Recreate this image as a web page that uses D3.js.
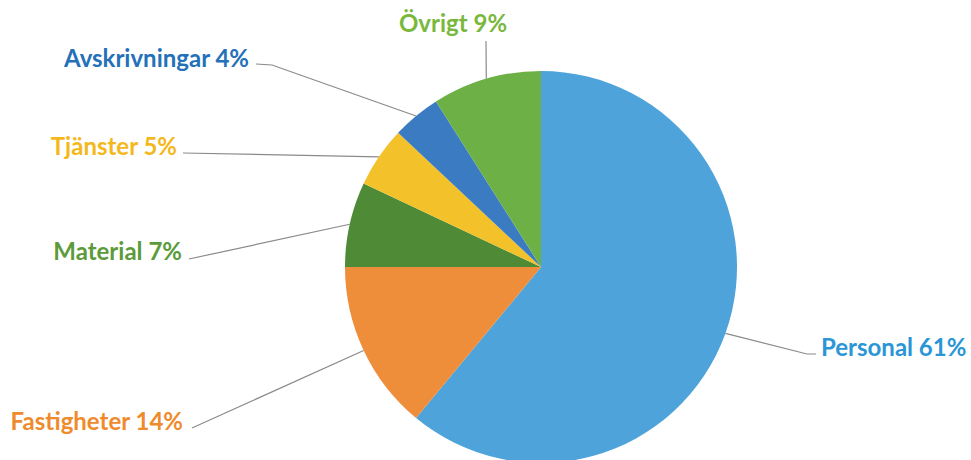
<!DOCTYPE html>
<html><head><meta charset="utf-8">
<script src="https://cdn.jsdelivr.net/npm/d3@7"></script>
<style>body{margin:0;background:#fff}svg{display:block}</style>
</head><body>
<script>
const categories = ["Personal", "Fastigheter", "Material", "Tjänster", "Avskrivningar", "Övrigt"];
const values = [61, 14, 7, 5, 4, 9];
const sliceColors = ["#4da3da", "#ee8d3a", "#4f8a36", "#f3c22a", "#3b7bc2", "#6db046"];
const textColors = ["#2b96d6", "#ef8b2c", "#5b9b3a", "#f4b81c", "#2471b9", "#79b83c"];
// label layout: anchor position, text anchor, leader end points
const labelLayout = [
  {x: 821, y: 346, anchor: "start", pts: [[807, 354], [816, 354]]},
  {x: 183, y: 420, anchor: "end", pts: [[192, 428]]},
  {x: 182, y: 250, anchor: "end", pts: [[189, 259]]},
  {x: 177, y: 145, anchor: "end", pts: [[183, 153]]},
  {x: 249, y: 57, anchor: "end", pts: [[272, 65], [256, 64]]},
  {x: 453, y: 22, anchor: "middle", pts: [[486, 41]]}
];

const W = 971, H = 460, cx = 541, cy = 267, R = 196;
const svg = d3.select("body").append("svg").attr("width", W).attr("height", H);
const data = categories.map((c, i) => ({cat: c, v: values[i], i}));
const pie = d3.pie().value(d => d.v).sort(null);
const arcs = pie(data);
const arc = d3.arc().innerRadius(0).outerRadius(R);
const g = svg.append("g").attr("transform", `translate(${cx},${cy})`);
g.selectAll("path").data(arcs).join("path")
  .attr("d", arc).attr("fill", d => sliceColors[d.data.i]);

const line = d3.line();
arcs.forEach(a => {
  const L = labelLayout[a.data.i];
  const mid = (a.startAngle + a.endAngle) / 2;
  const sx = cx + R * Math.sin(mid), sy = cy - R * Math.cos(mid);
  const pts = [[sx, sy]].concat(L.pts);
  svg.append("path").attr("d", line(pts)).attr("fill", "none")
    .attr("stroke", "#8a8a8a").attr("stroke-width", 1.2);
  svg.append("text").attr("x", L.x).attr("y", L.y).attr("text-anchor", L.anchor)
    .attr("dominant-baseline", "central")
    .attr("font-family", "Lato, 'Open Sans', sans-serif").attr("font-weight", 700)
    .attr("font-size", 24).attr("fill", textColors[a.data.i])
    .text(`${a.data.cat} ${a.data.v}%`);
});
</script>
</body></html>
